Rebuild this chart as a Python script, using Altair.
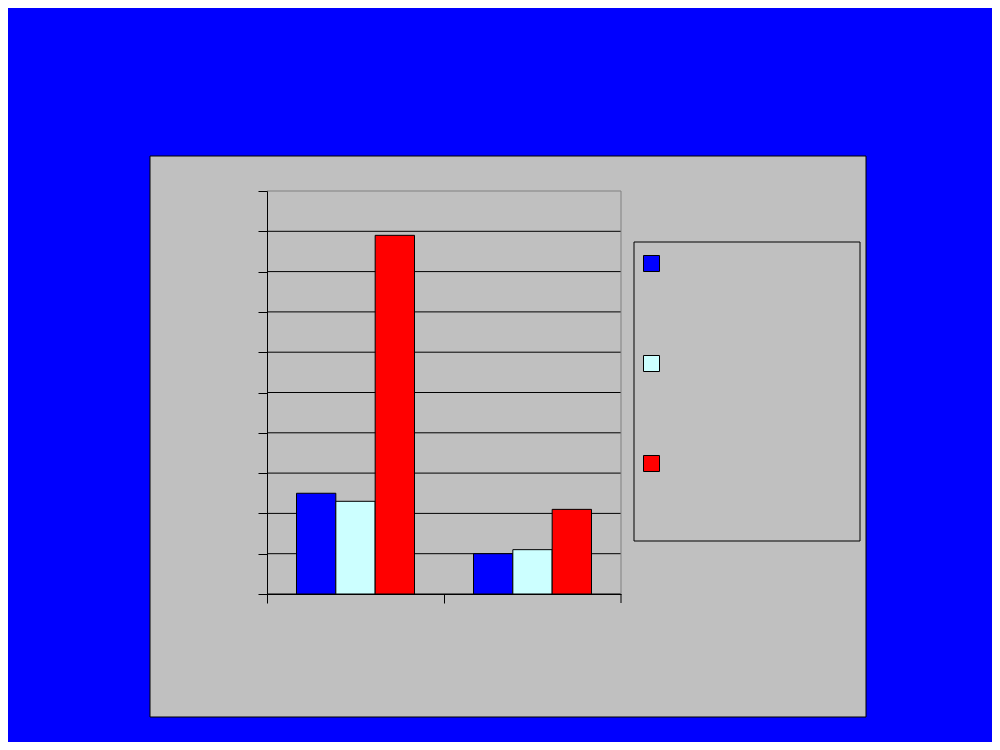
import altair as alt
import pandas as pd

# ---- data (no visible text in the reference) ----
categories = ["Group 1", "Group 2"]
series = ["Series 1", "Series 2", "Series 3"]
values_s1 = [2.5, 1.0]
values_s2 = [2.3, 1.1]
values_s3 = [8.9, 2.1]
y_ticks = [0, 1, 2, 3, 4, 5, 6, 7, 8, 9, 10]
series_colors = ["#0000FF", "#CCFFFF", "#FF0000"]

rows = []
for i, c in enumerate(categories):
    for s, vals in zip(series, [values_s1, values_s2, values_s3]):
        rows.append({"cat": c, "series": s, "value": vals[i]})
df = pd.DataFrame(rows)
grid_df = pd.DataFrame({"v": y_ticks})
one = alt.Data(values=[{"k": 1}])

W, H = 354, 403

x_enc = alt.X("cat:N", sort=categories,
              scale=alt.Scale(paddingInner=0, paddingOuter=0),
              axis=alt.Axis(labels=False, title=None, grid=False, tickSize=9,
                            bandPosition=0, zindex=1, domainColor="black",
                            tickColor="black", domainWidth=1, tickWidth=1))
y_axis = alt.Axis(labels=False, title=None, grid=False, values=y_ticks, tickSize=9,
                  zindex=1, domainColor="black", tickColor="black",
                  domainWidth=1, tickWidth=1)
y_scale = alt.Scale(domain=[0, 10], nice=False, zero=True)

# outer gray chart panel (decoration)
panel = alt.Chart(one).mark_rect(fill="#C0C0C0", stroke="black", strokeWidth=1).encode(
    x=alt.value(-117), x2=alt.value(599), y=alt.value(-35), y2=alt.value(526)
)
# legend box (decoration)
legend_box = alt.Chart(one).mark_rect(fill="#C0C0C0", stroke="black", strokeWidth=1).encode(
    x=alt.value(367), x2=alt.value(593), y=alt.value(51), y2=alt.value(350)
)
# plot-area right border (gray) and the end tick of the category axis
right_border = alt.Chart(one).mark_rule(color="#808080", strokeWidth=1).encode(
    x=alt.value(W), y=alt.value(0), y2=alt.value(H)
)
end_tick = alt.Chart(one).mark_rule(color="black", strokeWidth=1).encode(
    x=alt.value(W), y=alt.value(H), y2=alt.value(H + 9)
)

gridlines = alt.Chart(grid_df).mark_rule(strokeWidth=1).encode(
    y=alt.Y("v:Q", scale=y_scale, axis=y_axis),
    stroke=alt.condition(alt.datum.v == 10, alt.value("#808080"), alt.value("black")),
)

bars = alt.Chart(df).mark_bar(stroke="black", strokeWidth=1, fillOpacity=1).encode(
    x=x_enc,
    xOffset=alt.XOffset("series:N", sort=series,
                        scale=alt.Scale(paddingOuter=0.75, paddingInner=0)),
    y=alt.Y("value:Q", scale=y_scale, axis=y_axis),
    fill=alt.Fill("series:N", sort=series,
                  scale=alt.Scale(domain=series, range=series_colors),
                  legend=alt.Legend(orient="none", legendX=376, legendY=64,
                                    title=None, padding=0, symbolType="square",
                                    symbolSize=256, symbolStrokeColor="black",
                                    symbolStrokeWidth=1, labelExpr="''",
                                    labelFontSize=1, rowPadding=79,
                                    symbolOpacity=1)),
)

chart = alt.layer(panel, legend_box, gridlines, right_border, end_tick, bars).properties(
    width=W, height=H,
    autosize=alt.AutoSizeParams(type="none"),
    padding={"left": 259, "top": 183, "right": 371, "bottom": 148},
    background="#0000FF",
).configure_view(stroke=None, fill=None)

chart.save("out.html", embed_options={"renderer": "svg", "actions": False})
